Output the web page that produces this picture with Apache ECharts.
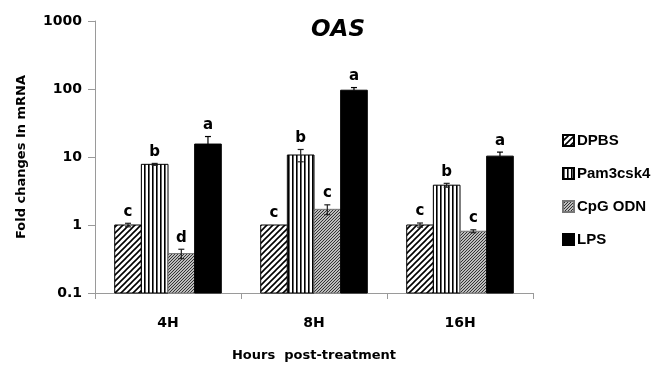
<!DOCTYPE html>
<html>
<head>
<meta charset="utf-8">
<script src="https://cdn.jsdelivr.net/npm/echarts@6/dist/echarts.min.js"></script>
<style>
  html, body { margin: 0; padding: 0; background: #fff; }
  #plot { width: 652px; height: 365px; }
</style>
</head>
<body>
<div id="plot"></div>
<script>
// Chart data
const hours = ["4H", "8H", "16H"];
const treatments = ["DPBS", "Pam3csk4", "CpG ODN", "LPS"];

const dpbsMean = [1.0, 1.0, 1.0];
const pamMean = [7.8, 10.7, 3.85];
const cpgMean = [0.38, 1.7, 0.81];
const lpsMean = [15.5, 96, 10.3];

const dpbsErr = [0.06, 0, 0.07];
const pamErr = [0.25, 2.2, 0.25];
const cpgErr = [0.06, 0.28, 0.04];
const lpsErr = [4.5, 9, 1.5];

const dpbsLetters = ["c", "c", "c"];
const pamLetters = ["b", "b", "b"];
const cpgLetters = ["d", "c", "c"];
const lpsLetters = ["a", "a", "a"];

const yTicks = [0.1, 1, 10, 100, 1000];

const means = [dpbsMean, pamMean, cpgMean, lpsMean];
const errs = [dpbsErr, pamErr, cpgErr, lpsErr];
const letters = [dpbsLetters, pamLetters, cpgLetters, lpsLetters];

const FONT = "DejaVu Sans";
const LEGEND_FONT = "Liberation Sans";
const CAT_GAP = 0.27;

// Hatch patterns drawn on small canvases
function makePattern(kind) {
    const c = document.createElement("canvas");
    const ctx = c.getContext("2d");
    if (kind === "diag") {
        c.width = 6; c.height = 6;
        ctx.fillStyle = "#fff"; ctx.fillRect(0, 0, 6, 6);
        ctx.strokeStyle = "#000"; ctx.lineWidth = 1.6;
        ctx.beginPath();
        ctx.moveTo(-1, 7); ctx.lineTo(7, -1);
        ctx.moveTo(-4, 4); ctx.lineTo(4, -4);
        ctx.moveTo(2, 10); ctx.lineTo(10, 2);
        ctx.stroke();
    } else if (kind === "vert") {
        c.width = 4; c.height = 2;
        ctx.fillStyle = "#fff"; ctx.fillRect(0, 0, 4, 2);
        ctx.fillStyle = "#000"; ctx.fillRect(0, 0, 1.6, 2);
    } else if (kind === "fine") {
        c.width = 3; c.height = 3;
        ctx.fillStyle = "#bdbdbd"; ctx.fillRect(0, 0, 3, 3);
        ctx.strokeStyle = "#333"; ctx.lineWidth = 1;
        ctx.beginPath();
        ctx.moveTo(-1, 4); ctx.lineTo(4, -1);
        ctx.moveTo(-1, 1); ctx.lineTo(1, -1);
        ctx.moveTo(2, 4); ctx.lineTo(4, 2);
        ctx.stroke();
    }
    return { image: c, repeat: "repeat" };
}

const fills = [makePattern("diag"), makePattern("vert"), makePattern("fine"), "#000"];
const borders = ["#000", "#000", "#777", "#000"];

const plotElement = document.getElementById("plot");
const chart = echarts.init(plotElement);

// Bars, error bars and letters drawn together with a custom series per treatment
function barRenderer(si) {
    return function (params, api) {
        const ci = api.value(0);
        const mean = api.value(1);
        const err = api.value(2);
        const center = api.coord([ci, mean]);
        const base = api.coord([ci, 0.1]);
        const band = api.size([1, 0])[0];
        const bw = band * (1 - CAT_GAP) / 4;
        const cx = center[0] + (si - 1.5) * bw;
        const children = [{
            type: "rect",
            shape: { x: cx - bw / 2, y: center[1], width: bw, height: base[1] - center[1] },
            style: { fill: fills[si], stroke: borders[si], lineWidth: 1 }
        }];
        let topY = center[1];
        if (err > 0) {
            const hi = api.coord([ci, mean + err])[1];
            const lo = api.coord([ci, Math.max(mean - err, 0.1)])[1];
            const capColor = si === 3 ? "#000" : "#222";
            children.push({
                type: "polyline",
                shape: { points: [[cx - 3, hi], [cx + 3, hi]] },
                style: { stroke: capColor, lineWidth: 1.2, fill: null }
            }, {
                type: "polyline",
                shape: { points: [[cx, hi], [cx, si === 3 ? center[1] : lo]] },
                style: { stroke: capColor, lineWidth: 1.2, fill: null }
            });
            if (si !== 3) {
                children.push({
                    type: "polyline",
                    shape: { points: [[cx - 3, lo], [cx + 3, lo]] },
                    style: { stroke: capColor, lineWidth: 1.2, fill: null }
                });
            }
            topY = hi;
        }
        children.push({
            type: "text",
            style: {
                text: letters[si][params.dataIndex],
                x: cx, y: topY - 4,
                align: "center", verticalAlign: "bottom",
                font: "bold 15px " + FONT, fill: "#000"
            }
        });
        return { type: "group", children: children };
    };
}

const series = treatments.map(function (name, si) {
    return {
        name: name,
        type: "custom",
        renderItem: barRenderer(si),
        encode: { x: 0, y: 1 },
        data: hours.map(function (h, ci) {
            return [ci, means[si][ci], errs[si][ci]];
        }),
        itemStyle: { color: fills[si], borderColor: borders[si], borderWidth: 1 },
        silent: true
    };
});

const option = {
    animation: false,
    title: {
        text: "OAS",
        left: 333,
        top: 14,
        textAlign: "center",
        textStyle: { fontFamily: FONT, fontStyle: "italic", fontWeight: "bold", fontSize: 23, color: "#000" }
    },
    grid: { left: 95, right: 119, top: 21, bottom: 72, outerBoundsMode: "none" },
    legend: {
        orient: "vertical",
        left: 557,
        top: 128,
        itemWidth: 11,
        itemHeight: 11,
        itemGap: 18,
        icon: "rect",
        data: treatments,
        textStyle: { fontFamily: LEGEND_FONT, fontWeight: "bold", fontSize: 15, color: "#000", padding: [0, 0, 0, -2] }
    },
    xAxis: {
        type: "category",
        data: hours,
        name: "Hours  post-treatment",
        nameLocation: "middle",
        nameGap: 56,
        nameTextStyle: { fontFamily: FONT, fontWeight: "bold", fontSize: 13, color: "#000" },
        axisLine: { lineStyle: { color: "#9a9a9a" } },
        axisTick: { show: true, length: 6, lineStyle: { color: "#9a9a9a" } },
        axisLabel: { fontFamily: FONT, fontWeight: "bold", fontSize: 14, color: "#000", margin: 23 }
    },
    yAxis: {
        type: "log",
        logBase: 10,
        min: 0.1,
        max: 1000,
        name: "Fold changes In mRNA",
        nameLocation: "middle",
        nameGap: 67,
        nameRotate: 90,
        nameTextStyle: { fontFamily: FONT, fontWeight: "bold", fontSize: 13, color: "#000" },
        axisLine: { show: true, lineStyle: { color: "#9a9a9a" } },
        axisTick: { show: true, inside: false, length: 7, lineStyle: { color: "#9a9a9a" } },
        splitLine: { show: false },
        axisLabel: {
            fontFamily: FONT, fontWeight: "bold", fontSize: 14, color: "#000", margin: 13,
            formatter: function (v) {
                const t = yTicks.find(function (k) { return Math.abs(k - v) / k < 1e-6; });
                return t === undefined ? "" : String(t);
            }
        }
    },
    series: series
};

chart.setOption(option);
</script>
</body>
</html>
